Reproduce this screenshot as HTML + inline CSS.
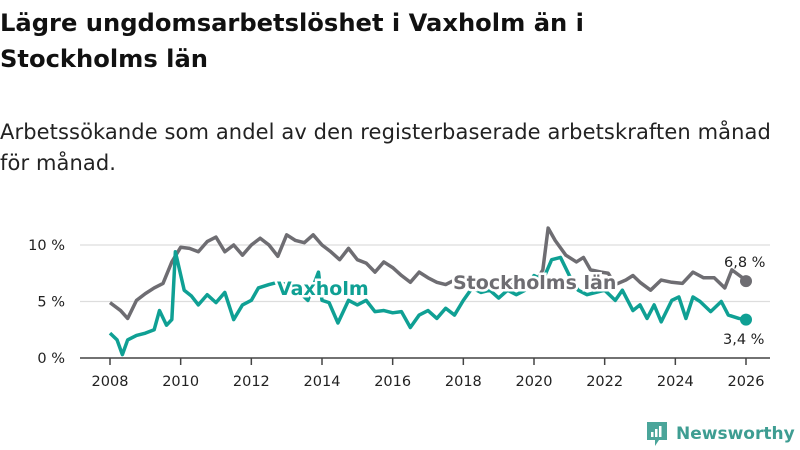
<!DOCTYPE html>
<html><head><meta charset="utf-8">
<style>
body{margin:0;background:#fff;width:800px;height:450px;overflow:hidden;font-family:"DejaVu Sans","Liberation Sans",sans-serif;}
.t{position:absolute;left:0;top:5px;font-size:24.2px;font-weight:bold;line-height:36px;color:#111;margin:0}
.s{position:absolute;left:0;top:117px;font-size:21px;line-height:31px;color:#222;margin:0;letter-spacing:0.1px}
svg{position:absolute;left:0;top:0}
</style></head><body>
<h1 class="t">Lägre ungdomsarbetslöshet i Vaxholm än i<br>Stockholms län</h1>
<p class="s">Arbetssökande som andel av den registerbaserade arbetskraften månad<br>för månad.</p>
<svg id="c" width="800" height="450"></svg>
<script>
const yTicks=[0,5,10];
const xTicks=[2008,2010,2012,2014,2016,2018,2020,2022,2024,2026];
const sthT=[2008,2008.3,2008.5,2008.75,2009,2009.25,2009.5,2009.75,2010,2010.25,2010.5,2010.75,2011,2011.25,2011.5,2011.75,2012,2012.25,2012.5,2012.75,2013,2013.25,2013.5,2013.75,2014,2014.25,2014.5,2014.75,2015,2015.25,2015.5,2015.75,2016,2016.25,2016.5,2016.75,2017,2017.25,2017.5,2017.75,2018,2018.5,2019,2019.5,2020,2020.25,2020.4,2020.6,2020.9,2021.2,2021.4,2021.6,2021.9,2022.1,2022.3,2022.6,2022.8,2023,2023.3,2023.6,2023.9,2024.2,2024.5,2024.8,2025.1,2025.4,2025.6,2025.9,2026];
const sthV=[4.9,4.2,3.5,5.1,5.7,6.2,6.6,8.5,9.8,9.7,9.4,10.3,10.7,9.4,10,9.1,10,10.6,10,9,10.9,10.4,10.2,10.9,10,9.4,8.7,9.7,8.7,8.4,7.6,8.5,8,7.3,6.7,7.6,7.1,6.7,6.5,6.9,6.9,6.6,6.8,6.5,6.5,7.8,11.5,10.4,9.1,8.5,8.9,7.8,7.6,7.5,6.5,6.9,7.3,6.7,6,6.9,6.7,6.6,7.6,7.1,7.1,6.2,7.8,7.1,6.8];
const vaxT=[2008,2008.2,2008.35,2008.5,2008.75,2009,2009.25,2009.4,2009.6,2009.75,2009.85,2010.1,2010.3,2010.5,2010.75,2011,2011.25,2011.5,2011.75,2012,2012.2,2012.5,2012.75,2013,2013.3,2013.6,2013.9,2014,2014.2,2014.45,2014.75,2015,2015.25,2015.5,2015.75,2016,2016.25,2016.5,2016.75,2017,2017.25,2017.5,2017.75,2018,2018.25,2018.5,2018.75,2019,2019.25,2019.5,2019.75,2020,2020.25,2020.5,2020.75,2021,2021.25,2021.5,2021.75,2022,2022.3,2022.5,2022.8,2023,2023.2,2023.4,2023.6,2023.9,2024.1,2024.3,2024.5,2024.7,2025,2025.3,2025.5,2025.8,2026];
const vaxV=[2.2,1.6,0.3,1.6,2,2.2,2.5,4.2,2.9,3.4,9.4,6,5.5,4.7,5.6,4.9,5.8,3.4,4.7,5.1,6.2,6.5,6.7,6.5,6,5.1,7.6,5.1,4.9,3.1,5.1,4.7,5.1,4.1,4.2,4,4.1,2.7,3.8,4.2,3.5,4.4,3.8,5.1,6.2,5.8,6,5.3,6,5.6,6,7.3,6.9,8.7,8.9,7.3,6,5.6,5.8,6,5.1,6,4.2,4.7,3.5,4.7,3.2,5.1,5.4,3.5,5.4,5,4.1,5,3.8,3.5,3.4];
const NS='http://www.w3.org/2000/svg';
const svg=document.getElementById('c');
const X=v=>110+(v-2008)*(746-110)/18;
const Y=v=>358-v*11.3;
function mk(tag,a,p){const e=document.createElementNS(NS,tag);for(const k in a)e.setAttribute(k,a[k]);(p||svg).appendChild(e);return e;}
yTicks.forEach(v=>{
 const g=mk('line',{x1:80,x2:770,y1:Y(v),y2:Y(v),stroke:v?'#ddd':'#444','stroke-width':v?1.2:1.5});
 
 
 const t=mk('text',{x:65,y:Y(v)+5,'text-anchor':'end','font-size':14.5,fill:'#222'});t.textContent=v+' %';
 
 
});
xTicks.forEach(v=>{
 const l=mk('line',{x1:X(v),x2:X(v),y1:358,y2:365,stroke:'#444','stroke-width':1.5});
 
 
 const t=mk('text',{x:X(v),y:386,'text-anchor':'middle','font-size':14.5,fill:'#222'});t.textContent=v;
 
 
});
function line(T,V,col,name){
 const p=mk('polyline',{points:T.map((t,i)=>X(t)+','+Y(V[i])).join(' '),fill:'none',stroke:col,'stroke-width':3.5,'stroke-linejoin':'round'});
 
 
 const c=mk('circle',{cx:X(T[T.length-1]),cy:Y(V[V.length-1]),r:6,fill:col});
 
 
}
line(sthT,sthV,'#6e6d72','stockholm-line');
line(vaxT,vaxV,'#0fa094','vaxholm-line');
function lab(x,y,txt,col,name,size,bold,halo){
 const t=mk('text',{x:x,y:y,'font-size':size,'font-weight':bold?'bold':'normal',fill:col});
 if(halo){t.setAttribute('stroke','#fff');t.setAttribute('stroke-width',5);t.setAttribute('paint-order','stroke');}
 t.textContent=txt;
 
 
}
lab(277,295,'Vaxholm','#0fa094','vaxholm-label',19,true,true);
lab(453,289,'Stockholms län','#6e6d72','stockholm-label',19,true,true);
lab(724,267,'6,8 %','#222','stockholm-end-value',14.5,false,false);
lab(723,344,'3,4 %','#222','vaxholm-end-value',14.5,false,false);
</script>
<div style="position:absolute;left:645px;top:420px;display:flex;align-items:center">
<svg width="24" height="28" style="position:static"><path d="M2 2h20v18h-8l-4 6v-6H2z" fill="#4aa59a"/><rect x="6" y="12" width="2.5" height="5" fill="#fff"/><rect x="10" y="9" width="2.5" height="8" fill="#fff"/><rect x="14" y="6" width="2.5" height="11" fill="#fff"/></svg>
<span style="margin-left:7px;font-size:17px;color:#3e9d92;font-weight:bold">Newsworthy</span></div>
</body></html>
